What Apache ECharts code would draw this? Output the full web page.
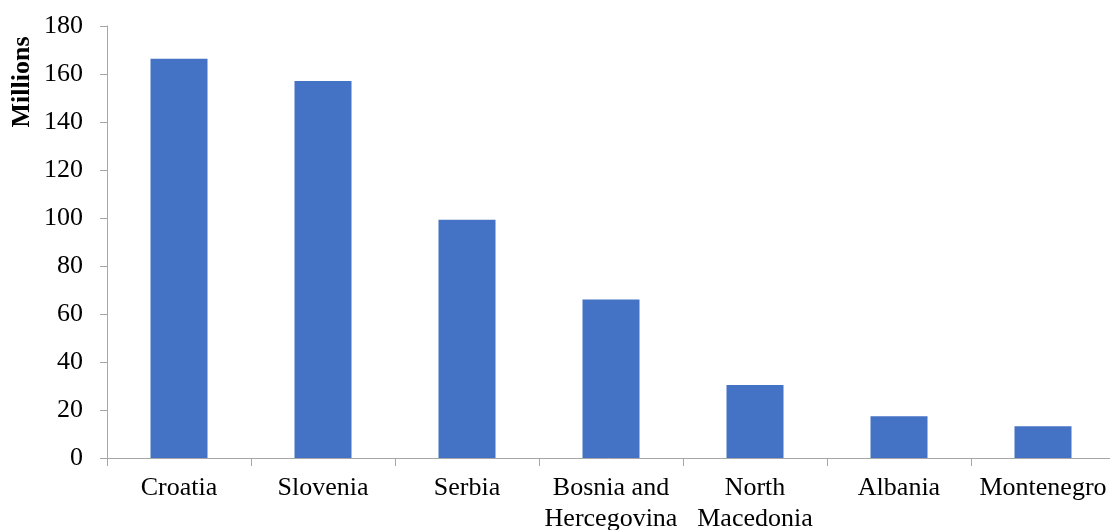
<!DOCTYPE html>
<html>
<head>
<meta charset="utf-8">
<style>
  html, body { margin: 0; padding: 0; background: #ffffff; }
  #chart { width: 1110px; height: 530px; }
</style>
<script src="https://cdn.jsdelivr.net/npm/echarts@6/dist/echarts.min.js"></script>
</head>
<body>
<div id="chart"></div>
<script>
// Countries along the horizontal axis
const countries = ['Croatia', 'Slovenia', 'Serbia', 'Bosnia and\nHercegovina', 'North\nMacedonia', 'Albania', 'Montenegro'];
// Values in millions
const values = [166.4, 157.1, 99.3, 66.0, 30.4, 17.4, 13.2];
// Value axis range
const yMin = 0;
const yMax = 180;
const yStep = 20;
const yTitle = 'Millions';

const font = '"Liberation Serif", "Times New Roman", serif';
const axisGray = '#a6a6a6';

const chart = echarts.init(document.getElementById('chart'), null, { renderer: 'canvas' });
chart.setOption({
  animation: false,
  backgroundColor: '#ffffff',
  grid: { left: 107, right: -5, top: 26, bottom: 72, containLabel: false, outerBoundsMode: 'none' },
  xAxis: {
    type: 'category',
    data: countries,
    boundaryGap: true,
    axisLine: { show: true, lineStyle: { color: axisGray, width: 1 } },
    axisTick: { show: true, length: 8, lineStyle: { color: axisGray } },
    axisLabel: {
      color: '#000000',
      fontFamily: font,
      fontSize: 26,
      lineHeight: 31,
      margin: 15,
      interval: 0
    }
  },
  yAxis: {
    type: 'value',
    min: yMin,
    max: yMax,
    interval: yStep,
    splitLine: { show: false },
    axisLine: { show: true, lineStyle: { color: axisGray, width: 1 } },
    axisTick: { show: true, length: 7, lineStyle: { color: axisGray } },
    axisLabel: {
      color: '#000000',
      fontFamily: font,
      fontSize: 26,
      margin: 24
    }
  },
  graphic: [{
    type: 'text',
    x: 22,
    y: 82,
    rotation: Math.PI / 2,
    style: {
      text: yTitle,
      fill: '#000000',
      font: 'bold 26px ' + font,
      align: 'center',
      verticalAlign: 'middle'
    }
  }],
  series: [{
    type: 'bar',
    data: values,
    barWidth: 57,
    itemStyle: { color: '#4472c4' }
  }]
});
</script>
</body>
</html>
